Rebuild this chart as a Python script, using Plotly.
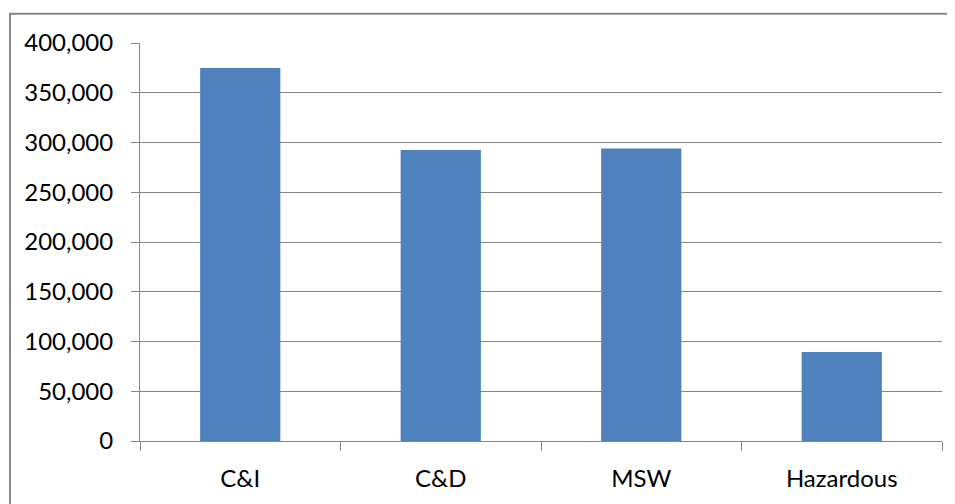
import plotly.graph_objects as go

categories = ["C&I", "C&D", "MSW", "Hazardous"]
values = [375000, 292500, 294000, 89500]
tick_vals = [0, 50000, 100000, 150000, 200000, 250000, 300000, 350000, 400000]
tick_text = ["0", "50,000", "100,000", "150,000", "200,000", "250,000", "300,000", "350,000", "400,000"]

OFF = 8  # page body margin
W, H = 955 - OFF, 504 - OFF
L, R, T = 140 - OFF, 13, 43 - OFF
B = H - (443 - OFF)
pw, ph = W - L - R, H - T - B

fig = go.Figure(go.Bar(x=categories, y=values, marker=dict(color="#4f81bd", line=dict(width=0))))

font = dict(family="Lato, Open Sans, sans-serif", size=24, color="#000000")
grey = "#868686"

fig.update_layout(
    width=W, height=H,
    margin=dict(l=L, r=R, t=T, b=B),
    paper_bgcolor="white", plot_bgcolor="white",
    bargap=0.6, showlegend=False, font=font,
    xaxis=dict(showline=True, linecolor=grey, linewidth=1, ticks="outside", ticklen=9,
               tickcolor=grey, tickson="boundaries", showgrid=False, tickfont=font,
               ticklabelstandoff=16),
    yaxis=dict(range=[0, 400000], tickvals=tick_vals, ticktext=tick_text, showline=True,
               linecolor=grey, linewidth=1, ticks="outside", ticklen=8, tickcolor=grey,
               showgrid=True, gridcolor=grey, gridwidth=1, zeroline=False, tickfont=font,
               ticklabelstandoff=13),
    shapes=[dict(type="rect", xref="paper", yref="paper",
                 x0=(10 - OFF - L) / pw, x1=(W + 20 - L) / pw,
                 y0=-(H + 20 - (T + ph)) / ph, y1=(T + ph - (13.5 - OFF)) / ph,
                 line=dict(color=grey, width=2), fillcolor="rgba(0,0,0,0)", layer="below")],
)

fig.write_html("out.html")
